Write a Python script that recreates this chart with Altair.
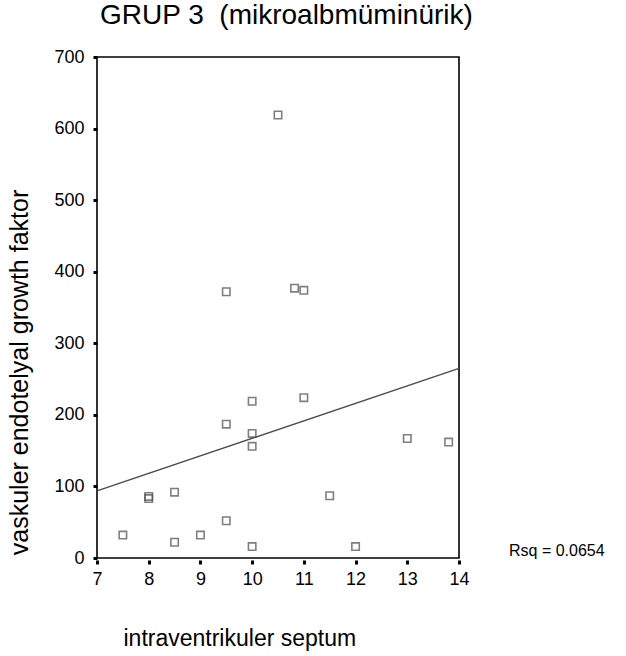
import altair as alt
import pandas as pd

# Data
septum = [7.5, 8.0, 8.0, 8.5, 8.5, 9.0, 9.5, 9.5, 10.0, 10.0, 10.0, 10.0,
          11.0, 11.5, 12.0, 13.0, 13.8, 10.5, 9.5, 10.82, 11.0]
vegf = [32, 86, 83, 92, 22, 32, 52, 187, 219, 174, 156, 16,
        224, 87, 16, 167, 162, 619, 372, 377, 374]
x_ticks = [7, 8, 9, 10, 11, 12, 13, 14]
y_ticks = [0, 100, 200, 300, 400, 500, 600, 700]
title_text = ["GRUP 3\u00a0\u00a0(mikroalbmüminürik)"]
x_title = "intraventrikuler septum"
y_title = "vaskuler endotelyal growth faktor"
rsq_label = ["Rsq = 0.0654"]

df = pd.DataFrame({"x": septum, "y": vegf})
FONT = "Liberation Sans"
GREY = "#4a4a4a"

xscale = alt.Scale(domain=[7, 14], nice=False, zero=False)
yscale = alt.Scale(domain=[0, 700], nice=False)

xaxis = alt.Axis(values=x_ticks, format="d", grid=False, domain=False, tickSize=4, tickWidth=3,
                 tickColor="black", labelFontSize=18, labelFont=FONT, labelColor="black",
                 labelPadding=6, offset=2, title=x_title, titleFont=FONT, titleFontSize=23,
                 titleFontWeight="normal", titleColor="black", titleX=26, titleY=85,
                 titleAlign="left", titleBaseline="alphabetic", labelFlush=False)
yaxis = alt.Axis(values=y_ticks, format="d", grid=False, domain=False, tickSize=4, tickWidth=3,
                 tickColor="black", labelFontSize=18, labelFont=FONT, labelColor="black",
                 labelPadding=9, title=y_title, titleFont=FONT, titleFontSize=25,
                 titleFontWeight="normal", titleColor="black", titleX=-70, titleY=315,
                 titleAlign="center", titleBaseline="alphabetic", titleAngle=270,
                 labelFlush=False)

points = alt.Chart(df).mark_point(shape="square", filled=False, size=55,
                                  color=GREY, strokeWidth=1.6).encode(
    x=alt.X("x:Q", scale=xscale, axis=xaxis),
    y=alt.Y("y:Q", scale=yscale, axis=yaxis),
)

line = alt.Chart(df).transform_regression(
    "x", "y", extent=[7, 14]
).mark_line(color=GREY, strokeWidth=1.4).encode(
    x=alt.X("x:Q", scale=xscale),
    y=alt.Y("y:Q", scale=yscale),
)

rsq = alt.Chart(pd.DataFrame({"t": rsq_label})).mark_text(
    font=FONT, fontSize=16, align="left", baseline="alphabetic", color="black"
).encode(x=alt.value(412), y=alt.value(499), text="t:N")

title = alt.Chart(pd.DataFrame({"t": title_text})).mark_text(
    font=FONT, fontSize=28, align="left", baseline="alphabetic", color="black"
).encode(x=alt.value(3), y=alt.value(-33), text="t:N")

chart = alt.layer(points, line, rsq, title).properties(
    width=362, height=501,
    padding={"left": 97, "top": 57, "right": 167, "bottom": 98},
    autosize=alt.AutoSizeParams(type="none"),
    background="white",
).configure_view(stroke="black", strokeWidth=1.6)

chart.save("out.html", embed_options={"renderer": "svg", "actions": False})
